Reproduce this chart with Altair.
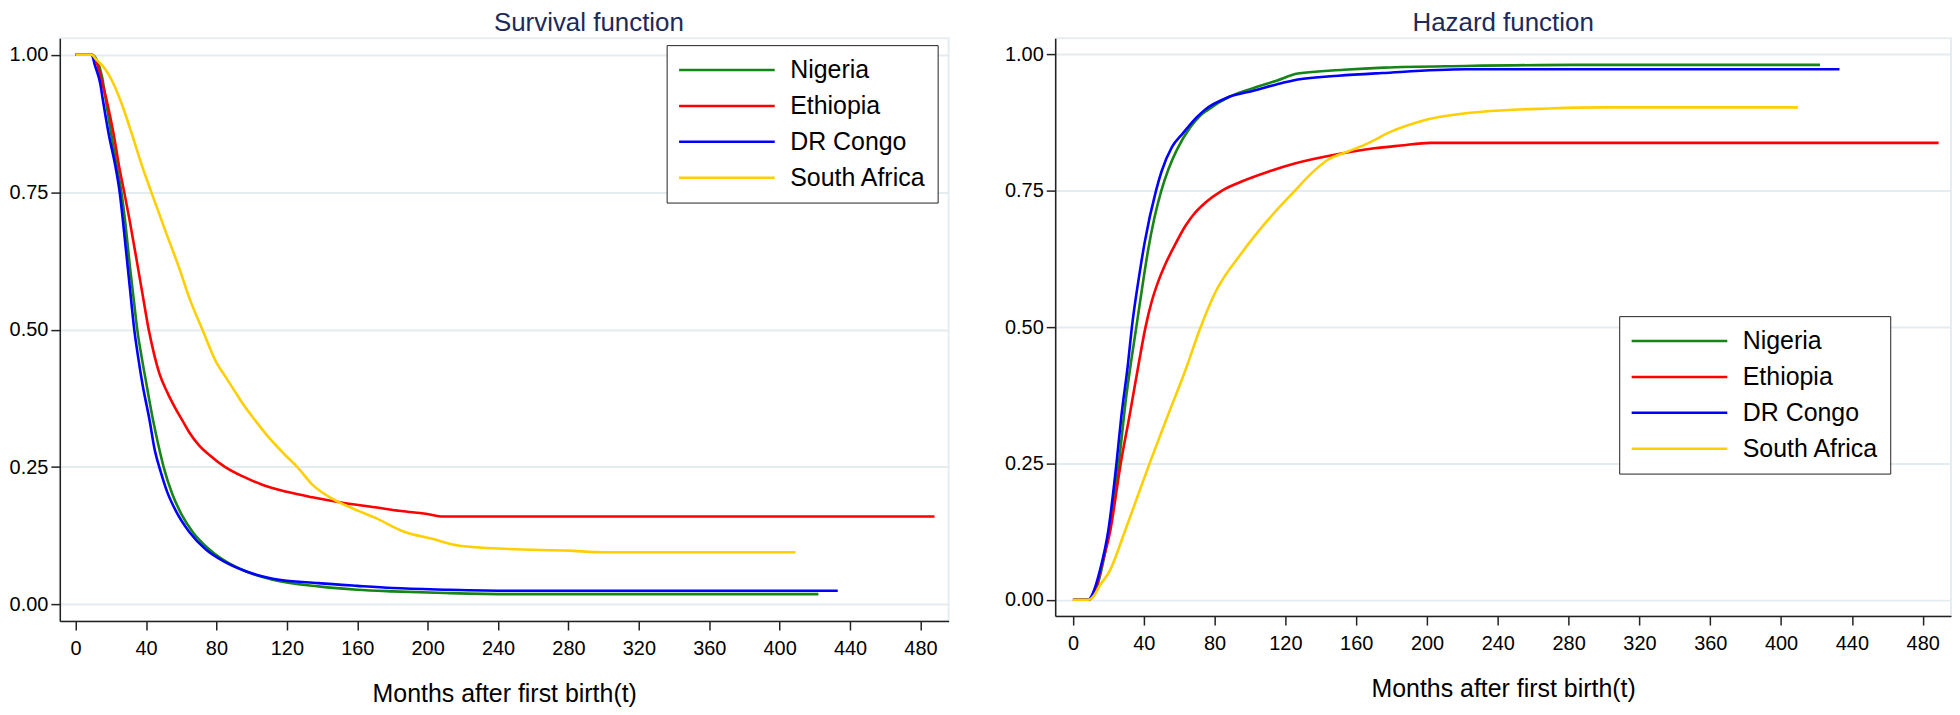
import altair as alt
import pandas as pd

FONT = "Liberation Sans"

countries = ["Nigeria", "Ethiopia", "DR Congo", "South Africa"]
colors = ["#168416", "#ff0000", "#0000ff", "#ffcf00"]
x_ticks = [0, 40, 80, 120, 160, 200, 240, 280, 320, 360, 400, 440, 480]
y_ticks = [0, 0.25, 0.5, 0.75, 1.0]

# ---- Survival function (left panel) ----
surv_t_ng = [0, 9, 12, 15, 17, 20, 23.5, 26, 28, 31, 33, 35, 37.5, 40, 44, 47, 50, 55, 60, 66.5, 76, 86, 97, 112, 138, 160, 180, 210, 246, 422]
surv_s_ng = [1, 1, 0.99, 0.96, 0.92, 0.86, 0.795, 0.75, 0.70, 0.61, 0.555, 0.50, 0.45, 0.405, 0.335, 0.29, 0.25, 0.20, 0.165, 0.132, 0.10, 0.077, 0.06, 0.045, 0.033, 0.027, 0.024, 0.021, 0.019, 0.019]

surv_t_et = [0, 9, 12, 15, 17.6, 21.5, 24.8, 27.6, 30.6, 35, 38.5, 41.5, 44.6, 47.6, 52.2, 57, 60.8, 64.6, 70, 76, 85, 95, 106, 120, 134.5, 150, 170, 185, 199, 209, 488]
surv_s_et = [1, 1, 0.985, 0.95, 0.917, 0.857, 0.795, 0.75, 0.70, 0.62, 0.555, 0.50, 0.455, 0.42, 0.385, 0.355, 0.334, 0.313, 0.29, 0.272, 0.25, 0.233, 0.218, 0.205, 0.195, 0.186, 0.177, 0.17, 0.165, 0.16, 0.16]

surv_t_dr = [0, 9, 11, 14, 15.5, 18.7, 22.7, 25, 26.8, 29.7, 31, 33.3, 35.5, 38, 41.9, 45, 48, 52, 57, 64.6, 74, 85, 97, 112, 138, 160, 180, 210, 246, 433]
surv_s_dr = [1, 1, 0.98, 0.947, 0.917, 0.857, 0.795, 0.75, 0.70, 0.61, 0.57, 0.50, 0.45, 0.40, 0.337, 0.28, 0.245, 0.205, 0.17, 0.132, 0.10, 0.077, 0.06, 0.047, 0.039, 0.034, 0.030, 0.027, 0.025, 0.025]

surv_t_sa = [0, 9, 12, 16, 21.5, 26, 31, 38, 43, 51.5, 58.5, 65, 72, 80, 85, 91, 95, 102, 110, 119, 126, 134.5, 146, 161, 170, 187, 202, 218, 246, 280, 300, 409]
surv_s_sa = [1, 1, 0.99, 0.977, 0.947, 0.912, 0.865, 0.795, 0.75, 0.675, 0.615, 0.554, 0.50, 0.44, 0.415, 0.385, 0.365, 0.335, 0.303, 0.272, 0.25, 0.218, 0.192, 0.17, 0.158, 0.132, 0.12, 0.107, 0.101, 0.098, 0.095, 0.095]

# ---- Hazard function (right panel) ----
haz_t_ng = [0, 8.6, 12, 15, 20, 25.9, 30, 33, 35.8, 39, 42.4, 46, 49.9, 54, 58.7, 66, 72, 76, 88, 100.5, 115, 127, 153, 175.6, 221.7, 283, 422]
haz_f_ng = [0, 0, 0.01, 0.04, 0.12, 0.25, 0.37, 0.44, 0.5, 0.57, 0.64, 0.70, 0.75, 0.79, 0.825, 0.865, 0.888, 0.898, 0.922, 0.937, 0.952, 0.965, 0.972, 0.976, 0.979, 0.981, 0.981]

haz_t_et = [0, 8.6, 12, 16, 21, 27, 32, 37, 41, 44.6, 48, 52, 57.5, 63.4, 68.5, 74.7, 84, 95.3, 110.3, 125.3, 147.8, 170.3, 185, 201.8, 489]
haz_f_et = [0, 0, 0.01, 0.06, 0.125, 0.25, 0.338, 0.43, 0.5, 0.548, 0.582, 0.614, 0.65, 0.685, 0.708, 0.728, 0.75, 0.767, 0.785, 0.8, 0.816, 0.828, 0.833, 0.838, 0.838]

haz_t_dr = [0, 8.6, 11, 15.2, 19.9, 24.6, 27.4, 31, 33.3, 37.7, 40.5, 46.9, 50, 55.9, 62, 70, 74.3, 88, 102.4, 115, 127, 150, 174.5, 221.7, 433]
haz_f_dr = [0, 0, 0.01, 0.053, 0.125, 0.25, 0.338, 0.43, 0.5, 0.6, 0.655, 0.75, 0.785, 0.83, 0.855, 0.885, 0.898, 0.922, 0.934, 0.945, 0.954, 0.961, 0.966, 0.973, 0.973]

haz_t_sa = [0, 8.6, 12, 15, 20.8, 29.3, 36, 43.3, 53.6, 64, 71, 80.3, 95.3, 110.3, 125.3, 134.7, 144, 155.3, 166.6, 179.3, 198, 231, 269, 300, 409.5]
haz_f_sa = [0, 0, 0.008, 0.025, 0.053, 0.125, 0.185, 0.25, 0.338, 0.425, 0.49, 0.563, 0.636, 0.697, 0.75, 0.782, 0.807, 0.822, 0.837, 0.858, 0.879, 0.895, 0.901, 0.903, 0.903]


def long_table(ts, vs):
    rows = []
    for c, tt, vv in zip(countries, ts, vs):
        for a, b in zip(tt, vv):
            rows.append({"country": c, "t": a, "v": b})
    return pd.DataFrame(rows)


surv_df = long_table([surv_t_ng, surv_t_et, surv_t_dr, surv_t_sa],
                     [surv_s_ng, surv_s_et, surv_s_dr, surv_s_sa])
haz_df = long_table([haz_t_ng, haz_t_et, haz_t_dr, haz_t_sa],
                    [haz_f_ng, haz_f_et, haz_f_dr, haz_f_sa])


def panel(df, title, dx, w, h, xdomain, lx, ly):
    return alt.Chart(df).mark_line(strokeWidth=2.6, interpolate="monotone").encode(
        x=alt.X("t:Q",
                scale=alt.Scale(domain=xdomain, nice=False, zero=False),
                axis=alt.Axis(values=x_ticks, format="d", grid=False, labelPadding=9,
                              titlePadding=23,
                              title="Months after first birth(t)")),
        y=alt.Y("v:Q",
                scale=alt.Scale(domain=[-0.03, 1.03], nice=False, zero=False),
                axis=alt.Axis(values=y_ticks, format=".2f", grid=True, title=None,
                              labelPadding=3)),
        color=alt.Color("country:N",
                        scale=alt.Scale(domain=countries, range=colors),
                        legend=alt.Legend(title=None, orient="none", legendX=lx, legendY=ly,
                                          symbolType="stroke", symbolSize=9216,
                                          symbolStrokeWidth=2.5, clipHeight=28,
                                          rowPadding=8, padding=11, labelOffset=14,
                                          labelFontSize=25, labelFont=FONT,
                                          labelColor="black", labelLimit=400,
                                          strokeColor="#222222", fillColor="white")),
    ).properties(
        width=w, height=h,
        title=alt.TitleParams(text=title, fontSize=26, font=FONT, fontWeight="normal",
                              color="#1c2a5b", offset=2, dx=dx, anchor="middle",
                              frame="group"),
    )


left = panel(surv_df, "Survival function", 85, 892, 585, [-9, 496], 609, 7)
right = panel(haz_df, "Hazard function", 0, 899, 580, [-10, 496], 566, 279)

chart = alt.hconcat(left, right, spacing=54).resolve_scale(
    color="independent"
).resolve_legend(
    color="independent"
).properties(
    padding={"left": 0, "top": 0, "right": 0, "bottom": 0}
).configure_view(
    stroke="#e6edf1", strokeWidth=2
).configure_axis(
    labelFont=FONT, labelFontSize=20, labelColor="black",
    labelFlush=False,
    titleFont=FONT, titleFontSize=25, titleFontWeight="normal", titleColor="black",
    domainColor="#222222", domainWidth=1.5,
    tickColor="#222222", tickWidth=1.5, tickSize=9,
    gridColor="#e3ecf0", gridWidth=2,
)

chart.save("out.html", embed_options={"renderer": "svg", "actions": False})
